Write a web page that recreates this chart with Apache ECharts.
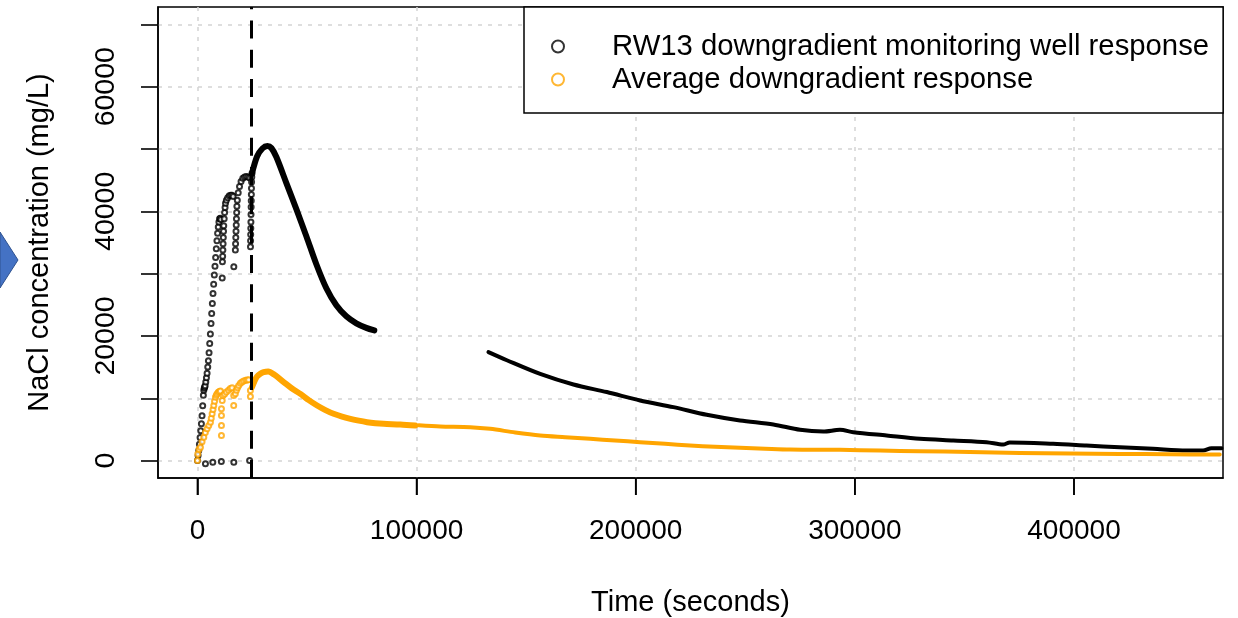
<!DOCTYPE html>
<html>
<head>
<meta charset="utf-8">
<script src="https://cdn.jsdelivr.net/npm/echarts@6/dist/echarts.min.js"></script>
<style>
html,body{margin:0;padding:0;background:#fff;}
#chart{width:1238px;height:618px;}
</style>
</head>
<body>
<div id="chart"></div>
<script>
// ---- data ----
const seriesNames = ['RW13 downgradient monitoring well response', 'Average downgradient response'];
const xTicks = [0, 100000, 200000, 300000, 400000];
const yTicks = [0, 10000, 20000, 30000, 40000, 50000, 60000, 70000];
const yLabels = [0, 20000, 40000, 60000];
const pulseTime = 24700;

// RW13: scattered early pulse points (time s, mg/L)
const rw13Early = [
  [0,0],[300,800],[600,1600],[900,2600],[1200,3700],[1500,4800],[1800,5900],[2100,7200],[2400,8800],[2700,10500],
  [2900,11300],[3100,11600],[3300,11800],[3500,12000],[3800,12600],[4100,13300],[4400,14000],[4700,15000],[5000,16000],
  [5300,17300],[5600,18800],[5900,20300],[6200,22000],[6500,23600],[6800,25200],[7100,26800],[7400,28300],[7700,29800],
  [8000,31200],[8300,32600],[8600,34000],[8900,35300],[9200,36500],[9500,37500],[9800,38300],[10100,38800],[10400,38900],[10700,38700],
  [11300,29300],[11400,31900],[11500,32800],[11600,33800],[11700,34800],[11800,35800],[11900,36800],[12000,37700],[12200,38800],
  [12400,39800],[12600,40600],[12800,41300],[13200,41800],[13800,42200],[14500,42500],[15200,42600],[15800,42600],[16300,42400],
  [16600,31100],[17300,33800],[17400,34800],[17500,35800],[17600,36800],[17700,37800],[17800,38800],[17900,39800],[18000,40800],
  [18200,41800],[18600,43000],[19200,44000],[19900,44800],[20700,45300],[21500,45500],[22300,45600],[23100,45500],[23800,45400],
  [24200,34300],[24250,35300],[24300,36300],[24350,37300],[24400,38300],[24450,39500],[24500,40700],[24550,41700],[24600,42700],
  [24650,43700],[24700,44700],[24800,45500],[24900,46100],
  [3650,-500],[7000,-270],[10900,-160],[16600,-270],[23800,0]
];
// RW13: dense post-injection curve
const rw13Peak = [
  [24900,46100],[27200,48800],[29640,50090],[31920,50490],[33740,50170],[36020,48720],[40580,44540],[45140,40350],
  [49700,36010],[54260,31510],[58820,27650],[63380,24920],[67940,23150],[72500,22030],[77060,21300],[80710,20900]
];
// RW13: later record
const rw13Tail = [
  [132800,17400],[141200,16100],[156400,13900],[171600,12200],[186800,11000],[202000,9650],[217200,8570],[232400,7340],
  [247600,6430],[262800,5790],[275000,4930],[285600,4660],[293200,4930],[299300,4560],[314500,4020],[329700,3490],
  [344900,3220],[360100,2950],[367700,2570],[370700,2900],[390500,2680],[405700,2410],[420900,2140],[436100,1880],
  [451300,1610],[458900,1610],[462700,1980],[467300,1980]
];

// Average: scattered early pulse points
const avgEarly = [
  [0,0],[150,1070],[700,1800],[1370,2140],[2100,3000],[2900,3750],[3600,4500],[4400,5100],[5170,5630],[5930,6160],
  [6300,6800],[6700,7500],[7100,8200],[7450,8840],[7800,9500],[8200,10180],[8600,10500],[8980,10720],[9500,10950],
  [10000,11100],[10500,11150],
  [10950,8310],[10950,7240],[10950,5630],[10950,4020],
  [11300,9650],[11700,10450],[12400,10700],[13200,10990],[14200,11300],[15000,11550],[15800,11690],
  [16550,10450],[16550,8840],
  [17300,10720],[17800,11300],[18300,11700],[18850,12060],[19600,12400],[20300,12600],[21100,12750],[22000,12900],
  [22700,12950],[23400,12970],
  [24170,11250],[24170,10290]
];
const avgPeak = [
  [24900,11790],[26000,12700],[27200,13500],[28700,13950],[30200,14200],[32300,14300],[35000,13800],[39350,12600],
  [43000,11600],[47000,10700],[50800,9700],[54600,8840],[58400,8100],[62150,7500],[66000,7050],[69800,6700],
  [73600,6400],[77400,6160],[81200,6000],[85000,5900],[92600,5790],[99400,5630]
];
const avgTail = [
  [101000,5650],[110800,5470],[124500,5360],[133600,5090],[145000,4500],[156400,4020],[167800,3750],[179200,3490],
  [190600,3220],[202000,2950],[213400,2680],[224800,2410],[236200,2200],[247600,2040],[259000,1900],[270400,1770],
  [281800,1740],[293200,1720],[311500,1600],[329700,1500],[352500,1370],[375300,1230],[398100,1150],[420900,1070],
  [443700,1010],[466500,960]
];

const BLACK = '#000000';
const ORANGE = '#FFA500';
const FONT = 'Liberation Sans, Arial, sans-serif';
const X_MIN = -18000, X_MAX = 468000, Y_MIN = -2800, Y_MAX = 72800;
const TICK_LEN = 17;

const chart = echarts.init(document.getElementById('chart'), null, {renderer: 'canvas'});

function scatter(name, data, color) {
  return {
    name, type: 'scatter', data,
    symbol: 'emptyCircle', symbolSize: 5,
    itemStyle: {color: color, borderColor: color, borderWidth: 1.5},
    emphasis: {disabled: true}, silent: true
  };
}
function curve(name, data, color, width) {
  return {
    name, type: 'line', data, showSymbol: false, smooth: 0.3,
    lineStyle: {color, width, cap: 'round', join: 'round'},
    itemStyle: {color},
    emphasis: {disabled: true}, silent: true
  };
}

const avgTailSeries = curve(seriesNames[1], avgTail, ORANGE, 4);
avgTailSeries.markLine = {
  silent: true, symbol: ['none', 'none'], animation: false,
  label: {show: false},
  lineStyle: {color: BLACK, width: 3, type: [18, 11.3]},
  data: [[{coord: [pulseTime, Y_MIN]}, {coord: [pulseTime, Y_MAX]}]]
};

const tickStyle = {color: BLACK, width: 1.6};
const arrowGraphic = {
  id: 'arrow', type: 'polygon', silent: true,
  shape: {points: [[0, 232], [18, 260], [0, 288]]},
  style: {fill: '#4472C4', stroke: '#2F528F', lineWidth: 1}
};
const option = {
  animation: false,
  backgroundColor: '#fff',
  textStyle: {fontFamily: FONT},
  grid: {left: 158, right: 15, top: 7, bottom: 140, show: true, borderColor: BLACK, borderWidth: 1.5,
         containLabel: false, outerBoundsMode: 'none'},
  xAxis: {
    type: 'value', min: X_MIN, max: X_MAX,
    name: 'Time (seconds)', nameLocation: 'middle', nameGap: 110,
    nameTextStyle: {fontSize: 29, color: BLACK, fontFamily: FONT},
    axisLine: {show: true, onZero: false, lineStyle: {color: BLACK, width: 1.5}},
    axisTick: {show: true, length: TICK_LEN, lineStyle: tickStyle, customValues: xTicks},
    axisLabel: {customValues: xTicks, margin: 39, fontSize: 28, color: BLACK, fontFamily: FONT, formatter: v => String(v)},
    splitLine: {show: true, lineStyle: {color: '#d3d3d3', width: 1.5, type: [4, 6]}}
  },
  yAxis: {
    type: 'value', min: Y_MIN, max: Y_MAX,
    name: 'NaCl concentration (mg/L)', nameLocation: 'middle', nameGap: 104, nameRotate: 90,
    nameTextStyle: {fontSize: 29, color: BLACK, fontFamily: FONT},
    axisLine: {show: true, onZero: false, lineStyle: {color: BLACK, width: 1.5}},
    axisTick: {show: true, length: TICK_LEN, lineStyle: tickStyle, customValues: yTicks},
    axisLabel: {customValues: yLabels, rotate: 90, margin: 37, fontSize: 28.5, color: BLACK, fontFamily: FONT, formatter: v => String(v)},
    splitLine: {show: true, lineStyle: {color: '#d3d3d3', width: 1.5, type: [4, 6]}}
  },
  legend: {
    show: true, orient: 'vertical', left: 524, top: 7,
    padding: [25, 14, 19, 27],
    backgroundColor: '#fff', borderColor: BLACK, borderWidth: 1.5, borderRadius: 0,
    itemWidth: 12, itemHeight: 12, itemGap: 4,
    icon: 'emptyCircle', selectedMode: false,
    itemStyle: {borderWidth: 1.6},
    textStyle: {fontSize: 29.3, color: BLACK, fontFamily: FONT, padding: [0, 0, 0, 43], lineHeight: 29},
    data: seriesNames
  },
  series: [
    scatter(seriesNames[0], rw13Early, BLACK),
    curve(seriesNames[0], rw13Peak, BLACK, 6),
    curve(seriesNames[0], rw13Tail, BLACK, 4),
    scatter(seriesNames[1], avgEarly, ORANGE),
    curve(seriesNames[1], avgPeak, ORANGE, 6),
    avgTailSeries
  ],
  graphic: [arrowGraphic]
};
chart.setOption(option);

// x-axis tick marks below the plot box, placed through the chart's own x scale
const tickGraphics = xTicks.map(function (v, i) {
  const p = chart.convertToPixel({gridIndex: 0}, [v, Y_MIN]);
  return {
    id: 'xtick' + i, type: 'line', silent: true, z: 100,
    shape: {x1: p[0], y1: p[1], x2: p[0], y2: p[1] + TICK_LEN},
    style: {stroke: BLACK, lineWidth: 1.6}
  };
});
chart.setOption({graphic: [arrowGraphic].concat(tickGraphics)});
</script>
</body>
</html>
